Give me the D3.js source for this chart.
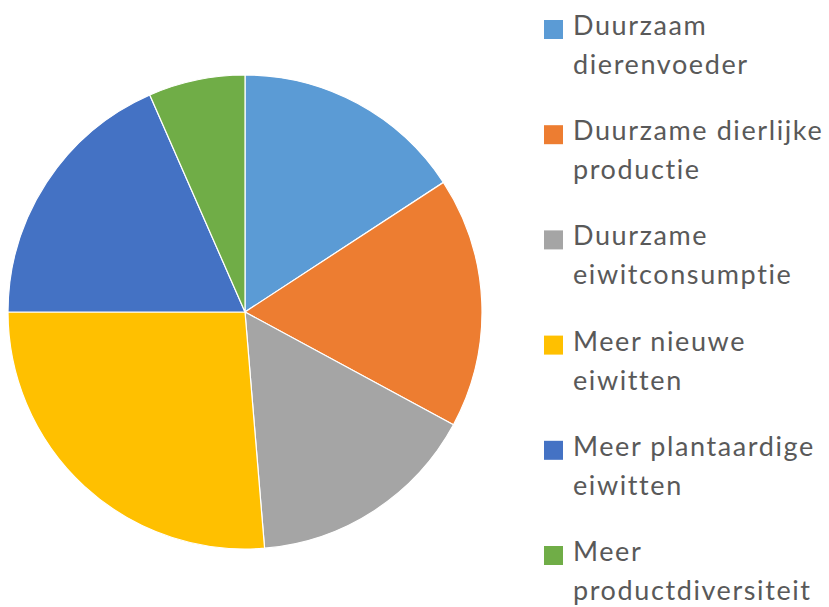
<!DOCTYPE html>
<html>
<head>
<meta charset="utf-8">
<script src="https://cdn.jsdelivr.net/npm/d3@7"></script>
<style>
  html, body { margin: 0; padding: 0; background: #ffffff; }
  svg { display: block; }
</style>
</head>
<body>
<svg id="chart" width="829" height="607"></svg>
<script>
const categories = [
  ["Duurzaam", "dierenvoeder"],
  ["Duurzame dierlijke", "productie"],
  ["Duurzame", "eiwitconsumptie"],
  ["Meer nieuwe", "eiwitten"],
  ["Meer plantaardige", "eiwitten"],
  ["Meer", "productdiversiteit"]
];
const values = [12, 13, 12, 20, 14, 5];
const colors = ["#5B9BD5", "#ED7D31", "#A5A5A5", "#FFC000", "#4472C4", "#70AD47"];

const svg = d3.select("#chart");
const cx = 245, cy = 312, r = 237;

const pie = d3.pie().sort(null).value(d => d)(values);
const arc = d3.arc().innerRadius(0).outerRadius(r);

svg.append("g")
  .attr("transform", `translate(${cx},${cy})`)
  .selectAll("path")
  .data(pie)
  .join("path")
  .attr("d", arc)
  .attr("fill", (d, i) => colors[i])
  .attr("stroke", "#ffffff")
  .attr("stroke-width", 1.2);

const legendY = d3.scalePoint().domain(d3.range(categories.length)).range([35, 561]);

const leg = svg.append("g")
  .selectAll("g")
  .data(categories)
  .join("g")
  .attr("transform", (d, i) => `translate(0,${legendY(i)})`);

leg.append("rect")
  .attr("x", 544).attr("y", -15)
  .attr("width", 19).attr("height", 19)
  .attr("fill", (d, i) => colors[i]);

leg.append("text")
  .attr("x", 573)
  .attr("y", 0)
  .attr("font-family", "Lato, 'Open Sans', sans-serif")
  .attr("font-size", 27)
  .attr("letter-spacing", 1.6)
  .attr("fill", "#595959")
  .selectAll("tspan")
  .data(d => d)
  .join("tspan")
  .attr("x", 573)
  .attr("dy", (d, j) => j === 0 ? 0 : 39)
  .text(d => d);
</script>
</body>
</html>
